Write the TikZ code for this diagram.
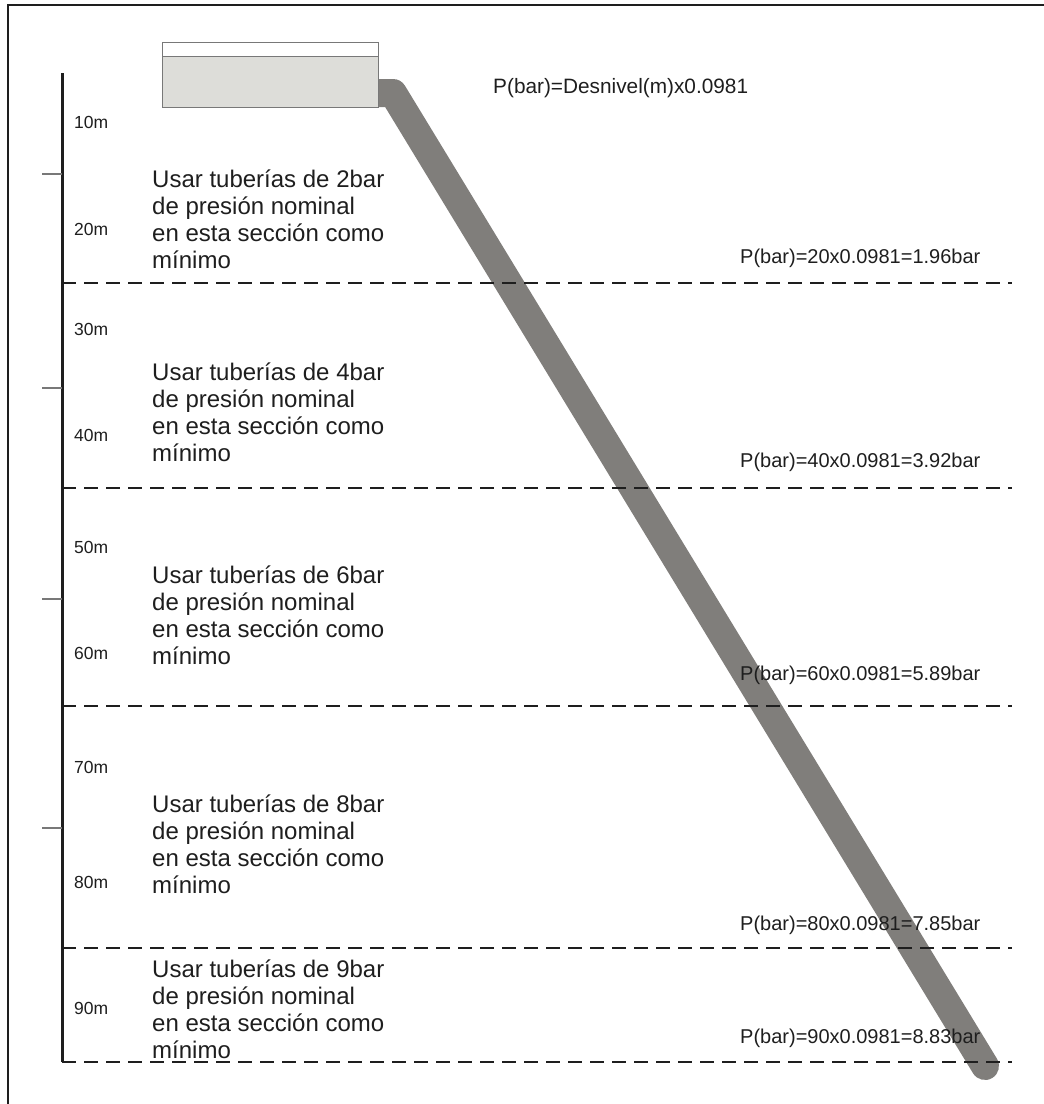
\documentclass[tikz,border=0pt]{standalone}
\usepackage{fontspec}
\setmainfont{Liberation Sans}
\definecolor{pipegrey}{RGB}{128,126,123}
\definecolor{tankfill}{RGB}{221,221,217}
\definecolor{tankline}{RGB}{120,120,120}
\definecolor{ink}{RGB}{30,30,30}

\begin{document}
\begin{tikzpicture}[x=1pt,y=-1pt]
            \useasboundingbox (0,0) rectangle (1044,1104);
            \draw[line width=1.8pt, ink] (8,1104) -- (8,5) -- (1044,5);
            % pipe below the tank
            \coordinate (pipein) at (378,93);
            \coordinate (bend) at (393,93);
            \coordinate (pipeout) at (985,1066);
            \draw[pipegrey, line width=28pt, line join=round, line cap=round] (pipein) -- (bend) -- (pipeout);
            % tank
            \node[draw=tankline, fill=white, anchor=north west, inner sep=0, minimum width=216pt, minimum height=65pt, line width=1.2pt] (tank) at (162,42) {};
            \node[draw=tankline, fill=tankfill, anchor=north west, inner sep=0, minimum width=216pt, minimum height=51pt, line width=1.2pt] (water) at (162,56) {};
            % axis
            \coordinate (axtop) at (62,73);
            \coordinate (axbot) at (62,1062);
            \draw[line width=3pt, ink] (axtop) -- (axbot);
            \begin{scope}[tankline, line width=1.2pt]
                \draw (42,174) -- (62,174);
                \draw (42,388) -- (62,388);
                \draw (42,599) -- (62,599);
                \draw (42,828) -- (62,828);
            \end{scope}
            \begin{scope}[ink, line width=2.6pt, dash pattern=on 14pt off 8pt]
                \draw (62,283) -- (1012,283);
                \draw (62,488) -- (1012,488);
                \draw (62,706) -- (1012,706);
                \draw (62,948) -- (1012,948);
                \draw (62,1062) -- (1012,1062);
            \end{scope}
            \begin{scope}[every node/.style={anchor=west, inner sep=0, text=ink, font=\fontsize{17.5}{19}\selectfont}]
                \node (m10) at (74,122) {10m};
                \node (m20) at (74,229) {20m};
                \node (m30) at (74,329) {30m};
                \node (m40) at (74,435) {40m};
                \node (m50) at (74,547) {50m};
                \node (m60) at (74,653) {60m};
                \node (m70) at (74,767) {70m};
                \node (m80) at (74,882) {80m};
                \node (m90) at (74,1008) {90m};
            \end{scope}
            \begin{scope}[every node/.style={anchor=west, inner sep=0, text=ink, align=left, font=\fontsize{24}{27}\selectfont}]
                \node (use2) at (152,219) {Usar tuberías de 2bar\\de presión nominal\\en esta sección como\\mínimo};
                \node (use4) at (152,412) {Usar tuberías de 4bar\\de presión nominal\\en esta sección como\\mínimo};
                \node (use6) at (152,615) {Usar tuberías de 6bar\\de presión nominal\\en esta sección como\\mínimo};
                \node (use8) at (152,844) {Usar tuberías de 8bar\\de presión nominal\\en esta sección como\\mínimo};
                \node (use9) at (152,1009) {Usar tuberías de 9bar\\de presión nominal\\en esta sección como\\mínimo};
            \end{scope}
            \begin{scope}[every node/.style={anchor=west, inner sep=0, text=ink, font=\fontsize{20}{22}\selectfont}]
                \node[font=\fontsize{20.8}{22}\selectfont] (formula) at (493,88) {P(bar)=Desnivel(m)x0.0981};
                \node (p20) at (740,258) {P(bar)=20x0.0981=1.96bar};
                \node (p40) at (740,462) {P(bar)=40x0.0981=3.92bar};
                \node (p60) at (740,675) {P(bar)=60x0.0981=5.89bar};
                \node (p80) at (740,925) {P(bar)=80x0.0981=7.85bar};
                \node (p90) at (740,1038) {P(bar)=90x0.0981=8.83bar};
            \end{scope}
        \end{tikzpicture}
\end{document}
